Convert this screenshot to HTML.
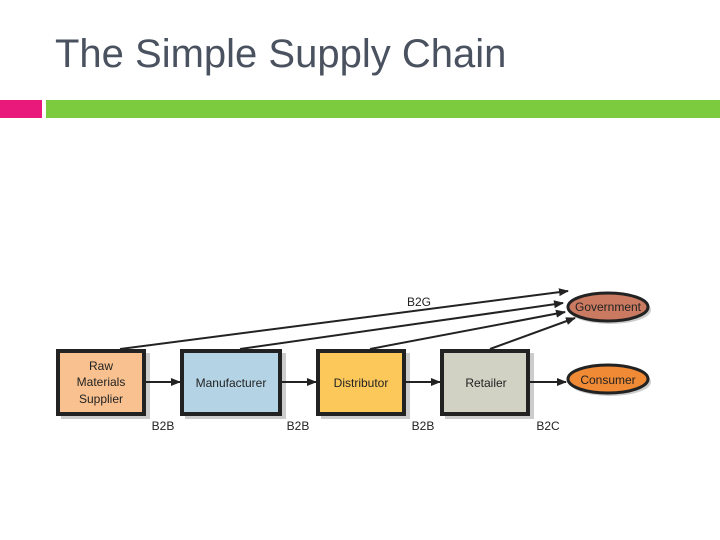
<!DOCTYPE html>
<html><head><style>
body{margin:0;width:720px;height:540px;background:#fff;position:relative;overflow:hidden;font-family:"Liberation Sans",sans-serif}
</style></head><body>
<div style="position:absolute;left:55px;top:32px;font-size:40px;color:#4a5260">The Simple Supply Chain</div>
<div style="position:absolute;left:0;top:100px;width:42px;height:18px;background:#e8197a"></div>
<div style="position:absolute;left:46px;top:100px;width:674px;height:18px;background:#7ccb3f"></div>
<svg width="720" height="540" style="position:absolute;left:0;top:0">
<defs><marker id="a" markerWidth="10" markerHeight="8" refX="9" refY="4" orient="auto" markerUnits="userSpaceOnUse"><path d="M0,0L10,4L0,8z" fill="#222"/></marker></defs>
<g fill="#ccc">
<rect x="61" y="353" width="89" height="66"/><rect x="185" y="353" width="101" height="66"/><rect x="321" y="353" width="89" height="66"/><rect x="445" y="353" width="89" height="66"/>
</g>
<g stroke="#222" stroke-width="4">
<rect x="58" y="351" width="86" height="63" fill="#f9c18f"/>
<rect x="182" y="351" width="98" height="63" fill="#b4d4e6"/>
<rect x="318" y="351" width="86" height="63" fill="#fcc85a"/>
<rect x="442" y="351" width="86" height="63" fill="#d1d1c4"/>
</g>
<ellipse cx="610" cy="310" rx="41" ry="14" fill="#ccc"/>
<ellipse cx="610" cy="382" rx="41" ry="14" fill="#ccc"/>
<ellipse cx="608" cy="307" rx="40" ry="14" fill="#c97a60" stroke="#222" stroke-width="3"/>
<ellipse cx="608" cy="379" rx="40" ry="14" fill="#f08a35" stroke="#222" stroke-width="3"/>
<g stroke="#222" stroke-width="2" marker-end="url(#a)">
<line x1="145" y1="382" x2="180" y2="382"/><line x1="281" y1="382" x2="316" y2="382"/>
<line x1="405" y1="382" x2="440" y2="382"/><line x1="529" y1="382" x2="566" y2="382"/>
<line x1="120" y1="349" x2="568" y2="291"/>
<line x1="240" y1="349" x2="563" y2="303"/>
<line x1="370" y1="349" x2="565" y2="312"/>
<line x1="490" y1="349" x2="575" y2="318"/>
</g>
<g font-family="Liberation Sans,sans-serif" font-size="12" fill="#222" text-anchor="middle">
<text x="101" y="370">Raw</text><text x="101" y="386">Materials</text><text x="101" y="403">Supplier</text>
<text x="231" y="387">Manufacturer</text><text x="361" y="387">Distributor</text><text x="486" y="387">Retailer</text>
<text x="608" y="307" dy="4">Government</text><text x="608" y="383" dy="1">Consumer</text>
<text x="419" y="306">B2G</text>
<text x="163" y="430">B2B</text><text x="298" y="430">B2B</text><text x="423" y="430">B2B</text><text x="548" y="430">B2C</text>
</g>
</svg>
</body></html>
